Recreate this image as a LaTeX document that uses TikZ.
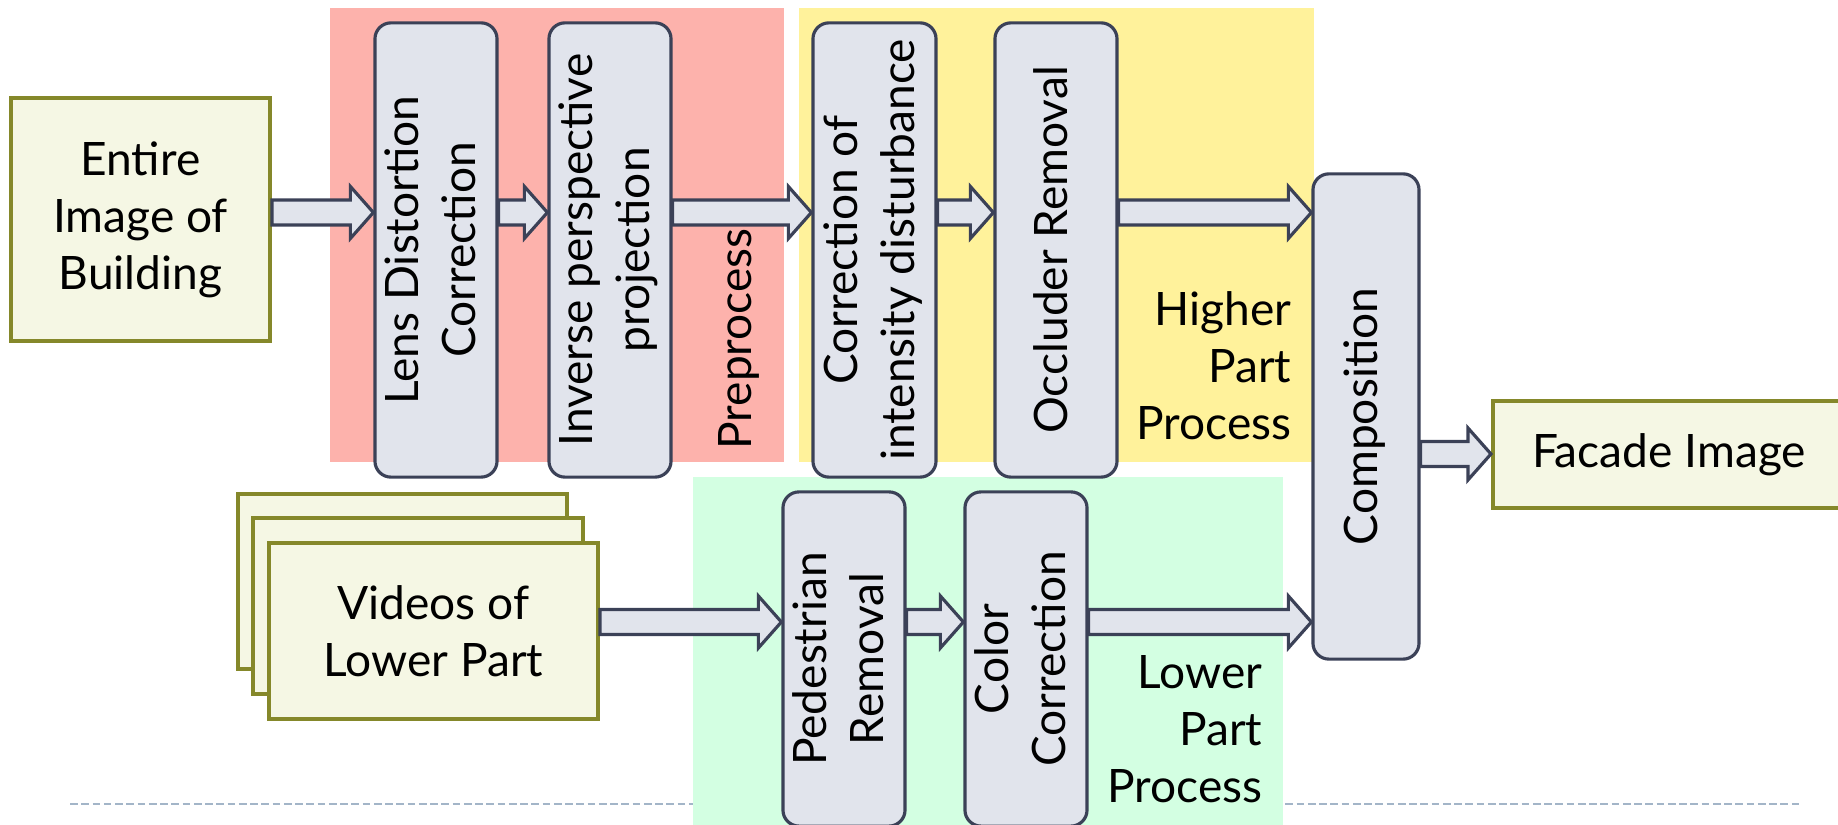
\documentclass[tikz,border=0pt]{standalone}
\usepackage{fontspec}
\setmainfont{Lato}
\usepackage{graphicx}
\usetikzlibrary{calc}
\definecolor{boxline}{RGB}{59,65,87}
\definecolor{boxfill}{RGB}{225,228,236}
\definecolor{srcline}{RGB}{133,136,42}
\definecolor{srcfill}{RGB}{245,247,228}
\definecolor{prefill}{RGB}{253,178,172}
\definecolor{higherfill}{RGB}{255,242,155}
\definecolor{lowerfill}{RGB}{211,255,226}
\definecolor{footgray}{RGB}{163,181,200}
\newcommand{\slidefont}{\fontsize{13.1}{16.2}\selectfont}
\newcommand{\vlabel}[1]{\rotatebox{90}{\begin{tabular}{@{}c@{}}#1\end{tabular}}}

\begin{document}
\begin{tikzpicture}[
  x=0.01cm, y=-0.01cm,
  stage/.style={draw=boxline,fill=boxfill,rounded corners=1.6mm,
    line width=0.9pt,inner sep=0pt,font=\slidefont},
  source/.style={draw=srcline,fill=srcfill,line width=1.1pt,
    inner sep=0pt,align=center,font=\slidefont},
  region/.style={inner sep=0pt,font=\slidefont},
  flow/.style={draw=boxline,fill=boxfill,line width=0.9pt,line join=miter,
    to path={let \p1=(\tikztostart), \p2=(\tikztotarget) in
      (\x1,\y1+1.25mm) -- (\x2-2.3mm,\y1+1.25mm) -- (\x2-2.3mm,\y1+2.6mm) -- (\x2,\y1)
      -- (\x2-2.3mm,\y1-2.6mm) -- (\x2-2.3mm,\y1-1.25mm) -- (\x1,\y1-1.25mm) -- cycle}}
]
\useasboundingbox (0,0) rectangle (1838,825);

% process groups
\fill[prefill] (330,8) rectangle (784,462);
\fill[higherfill] (799,8) rectangle (1314,462);
\draw[footgray,line width=0.6pt,dash pattern=on 2.2pt off 1pt] (70,804) -- (1800,804);
\fill[lowerfill] (693,477) rectangle (1283,830);

\node[region,rotate=90,anchor=base west] (prelabel) at (751,450) {Preprocess};
\node[region,align=right,anchor=east] (higherlabel) at (1292,366) {Higher\\Part\\Process};
\node[region,align=right,anchor=east] (lowerlabel) at (1263,729.5) {Lower\\Part\\Process};

% inputs
\node[source,minimum width=25.9mm,minimum height=24.3mm] (entire) at (140.5,219.5) {Entire\\Image of\\Building};
\node[source,minimum width=32.9mm,minimum height=17.5mm] (videoback) at (402.5,581.5) {};
\node[source,minimum width=32.9mm,minimum height=17.6mm] (videomid) at (418,606) {};
\node[source,minimum width=32.9mm,minimum height=17.6mm] (videos) at (433.5,631) {Videos of\\Lower Part};

% stages
\node[stage,minimum width=12.2mm,minimum height=45.4mm] (lens) at (436,250) {\vlabel{Lens Distortion\\Correction}};
\node[stage,minimum width=12.2mm,minimum height=45.4mm] (inverse) at (610,250) {\vlabel{Inverse perspective\\projection}};
\node[stage,minimum width=12.3mm,minimum height=45.4mm] (intensity) at (874.5,250) {\vlabel{Correction of\\intensity disturbance}};
\node[stage,minimum width=12.2mm,minimum height=45.4mm] (occluder) at (1056,250) {\vlabel{Occluder Removal}};
\node[stage,minimum width=12.2mm,minimum height=33.4mm] (pedestrian) at (844,659) {\vlabel{Pedestrian\\Removal}};
\node[stage,minimum width=12.2mm,minimum height=33.4mm] (color) at (1026,659) {\vlabel{Color\\Correction}};
\node[stage,minimum width=10.6mm,minimum height=48.5mm] (composition) at (1366,416.5) {\vlabel{Composition}};

% output
\node[source,minimum width=35.2mm,minimum height=10.7mm] (facade) at (1669,454.5) {Facade Image};

% arrows
\coordinate (upper) at (0,212.5);
\coordinate (lower) at (0,622);
\coordinate (outrow) at (0,454);
\draw[flow] (entire.east |- upper) to (lens.west |- upper);
\draw[flow] (lens.east |- upper) to (inverse.west |- upper);
\draw[flow] (inverse.east |- upper) to (intensity.west |- upper);
\draw[flow] (intensity.east |- upper) to (occluder.west |- upper);
\draw[flow] (occluder.east |- upper) to (composition.west |- upper);
\draw[flow] (videos.east |- lower) to (pedestrian.west |- lower);
\draw[flow] (pedestrian.east |- lower) to (color.west |- lower);
\draw[flow] (color.east |- lower) to (composition.west |- lower);
\draw[flow] (composition.east |- outrow) to (facade.west |- outrow);
\end{tikzpicture}
\end{document}
